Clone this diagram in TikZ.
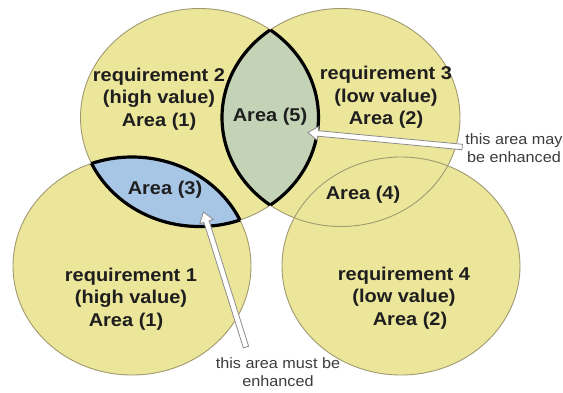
\documentclass[tikz,border=0pt]{standalone}
\usepackage{fontspec}
\newfontfamily\lblfont[FakeStretch=1.08]{Liberation Sans}
\usetikzlibrary{calc}

\definecolor{vennfill}{RGB}{236,230,155}
\definecolor{venndraw}{RGB}{160,154,112}
\definecolor{lensgreen}{RGB}{196,211,182}
\definecolor{lensblue}{RGB}{167,197,228}
\definecolor{labelink}{RGB}{30,30,30}
\definecolor{noteink}{RGB}{60,60,60}
\definecolor{arrowline}{RGB}{140,140,140}

\tikzset{
  set shape/.style={x radius=119pt, y radius=109pt},
  set outline/.style={draw=venndraw, line width=0.9pt},
  lens border/.style={draw=black, line width=3.2pt},
  req/.style={font=\lblfont\bfseries\fontsize{18.5}{22.5}\selectfont,
    text=labelink, align=center, inner sep=0pt},
  note/.style={font=\lblfont\fontsize{15}{18.5}\selectfont,
    text=noteink, align=center, inner sep=0pt},
  block arrow/.style={fill=white, draw=arrowline, line width=0.8pt, line join=miter},
}

% hollow block arrow from #1 (tail) to #2 (tip)
\newcommand\drawblockarrow[2]{%
  \coordinate (ba-base) at ($(#2)!10pt!(#1)$);
  \filldraw[block arrow]
    ($(#1)!2.75pt!90:(#2)$) -- ($(ba-base)!2.75pt!90:(#2)$)
    -- ($(ba-base)!7pt!90:(#2)$) -- (#2)
    -- ($(ba-base)!7pt!-90:(#2)$) -- ($(ba-base)!2.75pt!-90:(#2)$)
    -- ($(#1)!2.75pt!-90:(#2)$) -- cycle;}

\begin{document}
\begin{tikzpicture}[x=1pt,y=-1pt]
\useasboundingbox[fill=white] (0,0) rectangle (563,392);

% centres of the four requirement sets
\coordinate (c1) at (132,266);
\coordinate (c2) at (199.5,117.5);
\coordinate (c3) at (341,117.5);
\coordinate (c4) at (401,266);

% set bodies and their thin outlines
\foreach \c in {c1,c2,c3,c4} \fill[vennfill] (\c) ellipse [set shape];
\foreach \c in {c1,c2,c3,c4} \draw[set outline] (\c) ellipse [set shape];

% overlap of requirement 2 and requirement 3
\begin{scope}
  \clip (c2) ellipse [set shape];
  \fill[lensgreen] (c3) ellipse [set shape];
  \draw[lens border] (c3) ellipse [set shape];
\end{scope}
\begin{scope}
  \clip (c3) ellipse [set shape];
  \draw[lens border] (c2) ellipse [set shape];
\end{scope}

% overlap of requirement 1 and requirement 2
\begin{scope}
  \clip (c2) ellipse [set shape];
  \fill[lensblue] (c1) ellipse [set shape];
  \draw[lens border] (c1) ellipse [set shape];
\end{scope}
\begin{scope}
  \clip (c1) ellipse [set shape];
  \draw[lens border] (c2) ellipse [set shape];
\end{scope}

% labels
\node[req] (r2) at (159,99) {requirement 2\\(high value)\\Area (1)};
\node[req] (r3) at (386,97.5) {requirement 3\\(low value)\\Area (2)};
\node[req] (a5) at (270,117) {Area (5)};
\node[req] (a3) at (165,190) {Area (3)};
\node[req] (a4) at (363,195) {Area (4)};
\node[req] (r1) at (131,299) {requirement 1\\(high value)\\Area (1)\hspace*{10pt}};
\node[req] (r4) at (404,298) {requirement 4\\(low value)\\\hspace*{12pt}Area (2)};

\node[note] (may) at (514,148) {this area may\\be enhanced};
\node[note] (must) at (278,372) {this area must be\\enhanced};

% pointers
\coordinate (tip5) at (308,132.5);
\coordinate (tip3) at (203.5,212);
\coordinate (mayTail) at ($(may.west)+(-3,-1)$);
\coordinate (mustTail) at ($(must.north)+(-32,-10)$);
\drawblockarrow{mayTail}{tip5}
\drawblockarrow{mustTail}{tip3}
\end{tikzpicture}
\end{document}
